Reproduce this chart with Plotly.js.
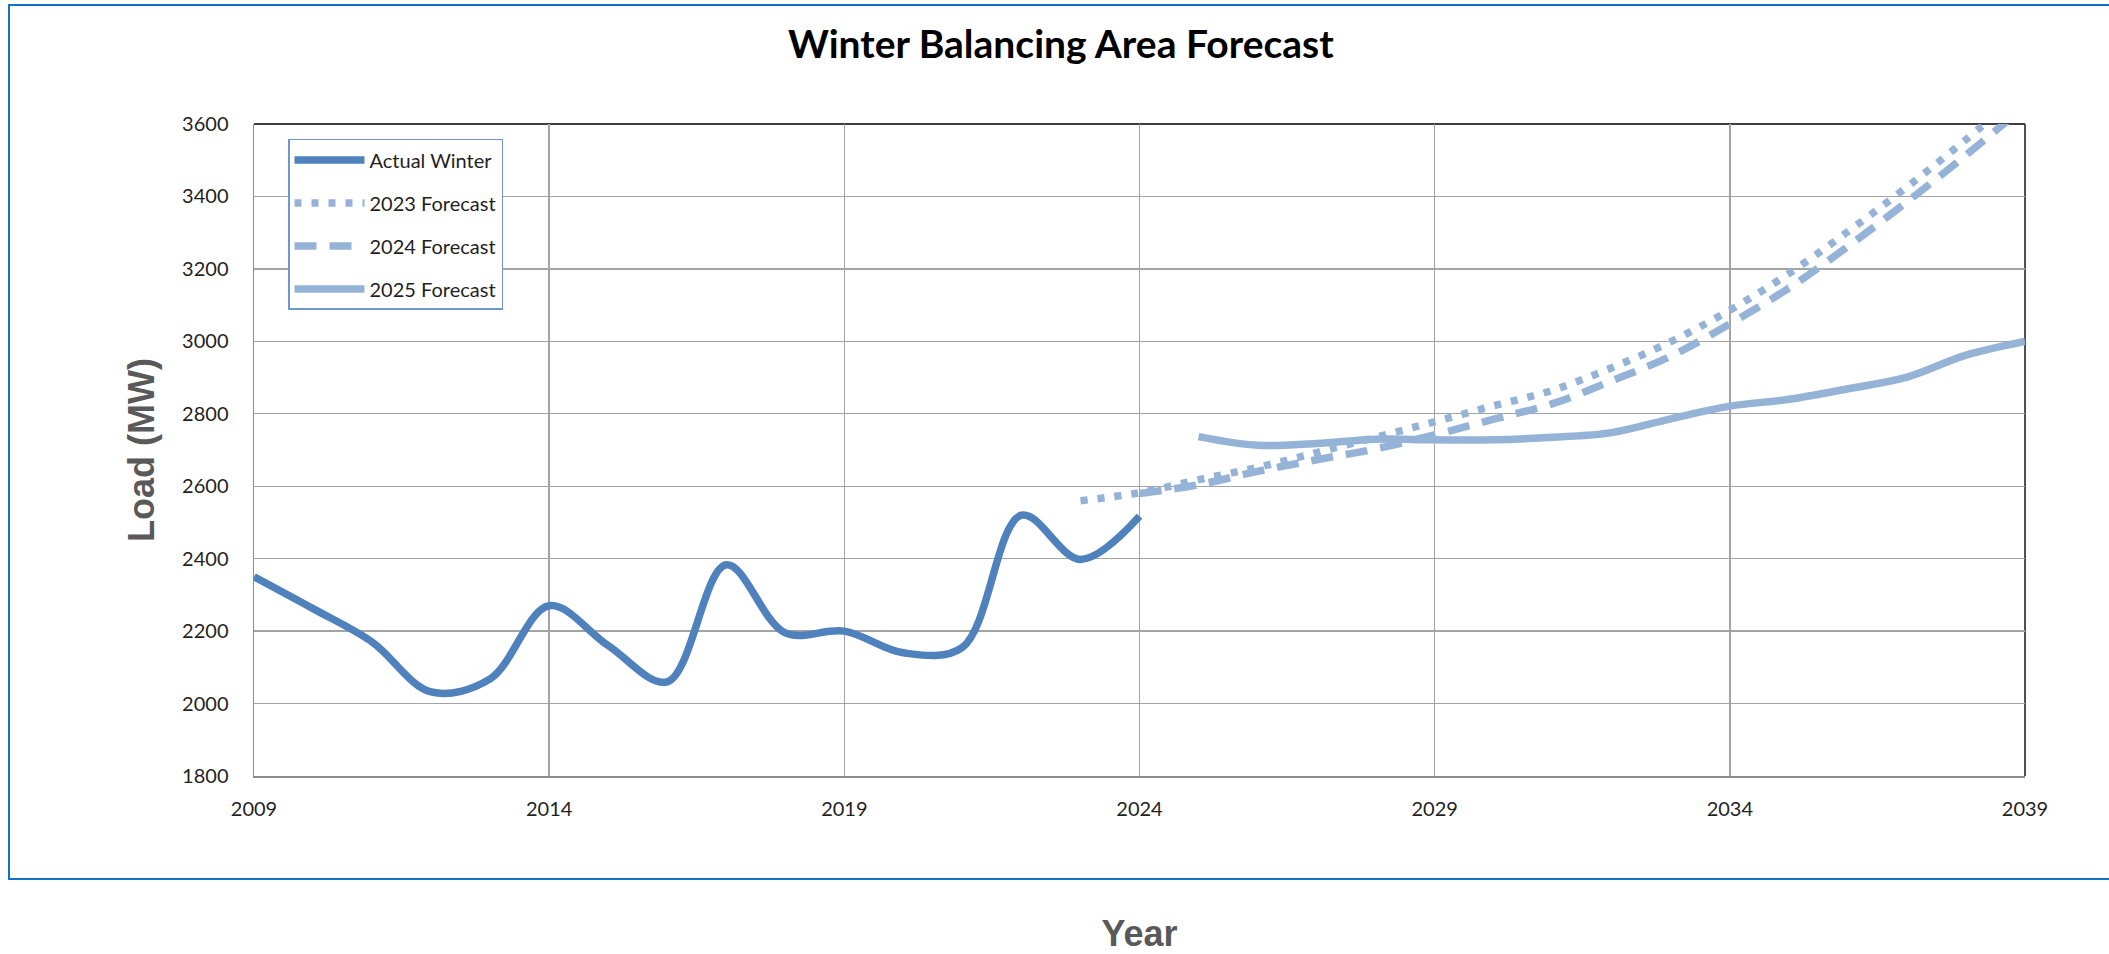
<!DOCTYPE html>
<html><head><meta charset="utf-8">
<script src="https://cdn.plot.ly/plotly-3.0.1.min.js"></script>
<style>
html,body{margin:0;padding:0;background:#fff;overflow:hidden}
#chart{position:absolute;left:0;top:0;width:2109px;height:954px}
#frame{position:absolute;left:7.5px;top:3.5px;width:2200px;height:876px;border:2.5px solid #1173c3;box-sizing:border-box;pointer-events:none}
</style></head><body>
<div id="chart"></div><div id="frame"></div>
<script>
const actualYears = [2009,2010,2011,2012,2013,2014,2015,2016,2017,2018,2019,2020,2021,2022,2023,2024];
const actualLoad  = [2350,2262,2170,2032,2068,2270,2160,2060,2383,2195,2200,2140,2155,2520,2398,2517];

const f2023Years = [2023,2024,2025,2026,2027,2028,2029,2030,2031,2032,2033,2034,2035,2036,2037,2038,2039];
const f2023Load  = [2560,2582,2618,2652,2693,2735,2778,2822,2865,2927,2999,3086,3187,3303,3426,3557,3695];

const f2024Years = [2024,2025,2026,2027,2028,2029,2030,2031,2032,2033,2034,2035,2036,2037,2038,2039];
const f2024Load  = [2580,2604,2641,2673,2703,2742,2785,2828,2891,2959,3048,3147,3262,3385,3514,3650];

const f2025Years = [2025,2026,2027,2028,2029,2030,2031,2032,2033,2034,2035,2036,2037,2038,2039];
const f2025Load  = [2737,2713,2718,2730,2728,2728,2735,2748,2786,2821,2840,2869,2901,2962,3000];

const seriesNames = ['Actual Winter','2023 Forecast','2024 Forecast','2025 Forecast'];
const xTicks = [2009,2014,2019,2024,2029,2034,2039];
const yTicks = [1800,2000,2200,2400,2600,2800,3000,3200,3400,3600];

const darkBlue = '#4f81bd';
const lightBlue = '#95b3d7';

const traces = [
  {x: actualYears, y: actualLoad, name: seriesNames[0], legendgroup: 'g0', type: 'scatter', mode: 'lines',
   line: {color: darkBlue, width: 7.5, shape: 'spline', smoothing: 1}},
  {x: f2023Years, y: f2023Load, name: seriesNames[1], legendgroup: 'g1', type: 'scatter', mode: 'lines',
   line: {color: lightBlue, width: 7.5, shape: 'spline', smoothing: 1, dash: '7px,10px'}},
  {x: f2024Years, y: f2024Load, name: seriesNames[2], legendgroup: 'g2', type: 'scatter', mode: 'lines',
   line: {color: lightBlue, width: 7.5, shape: 'spline', smoothing: 1, dash: '22px,13px'}},
  {x: f2025Years, y: f2025Load, name: seriesNames[3], legendgroup: 'g3', type: 'scatter', mode: 'lines',
   line: {color: lightBlue, width: 7.5, shape: 'spline', smoothing: 1}}
];

const tickFont = {family: 'Lato, "Open Sans", sans-serif', size: 20, color: '#1f1f1f'};

const layout = {
  width: 2109, height: 954,
  margin: {l: 254, r: 84, t: 124, b: 178, autoexpand: false},
  paper_bgcolor: '#ffffff', plot_bgcolor: '#ffffff',
  title: {
    text: 'Winter Balancing Area Forecast',
    font: {family: 'Lato, "Open Sans", sans-serif', size: 39, weight: 'bold', color: '#000000'},
    x: 0.503, xanchor: 'center', y: 0.954, yanchor: 'middle'
  },
  xaxis: {
    range: [2009, 2039], tickmode: 'array', tickvals: xTicks, ticktext: xTicks.map(String),
    showgrid: true, gridcolor: '#a3a3a3', gridwidth: 1.4,
    showline: true, linecolor: '#8c8c8c', linewidth: 1.5,
    ticks: '', ticklabelstandoff: 14, tickfont: tickFont, zeroline: false,
    title: {text: 'Year', standoff: 112,
      font: {family: '"Liberation Sans", Arial, sans-serif', size: 36, weight: 'bold', color: '#595959'}}
  },
  yaxis: {
    range: [1800, 3600], tickmode: 'array', tickvals: yTicks, ticktext: yTicks.map(String),
    showgrid: true, gridcolor: '#a3a3a3', gridwidth: 1.4,
    showline: true, linecolor: '#8c8c8c', linewidth: 1.5,
    ticks: '', ticklabelstandoff: 20, tickfont: tickFont, zeroline: false,
    title: {text: 'Load (MW)', standoff: 16,
      font: {family: '"Liberation Sans", Arial, sans-serif', size: 36, weight: 'bold', color: '#595959'}}
  },
  legend: {
    x: 0.0192, y: 0.977, xanchor: 'left', yanchor: 'top',
    bgcolor: '#ffffff', bordercolor: '#6d97cf', borderwidth: 1.5,
    font: {family: 'Lato, "Open Sans", sans-serif', size: 20, color: '#1f1f1f'},
    itemwidth: 70, tracegroupgap: 14, traceorder: 'grouped'
  },
  shapes: [
    {type: 'line', xref: 'paper', yref: 'paper', x0: 0, x1: 1, y0: 1, y1: 1,
     line: {color: '#3f3f3f', width: 1.8}, layer: 'below'},
    {type: 'line', xref: 'paper', yref: 'paper', x0: 1, x1: 1, y0: 0, y1: 1,
     line: {color: '#3f3f3f', width: 1.8}, layer: 'below'}
  ],
  showlegend: true
};

Plotly.newPlot('chart', traces, layout, {staticPlot: true, displayModeBar: false});
</script>
</body></html>
